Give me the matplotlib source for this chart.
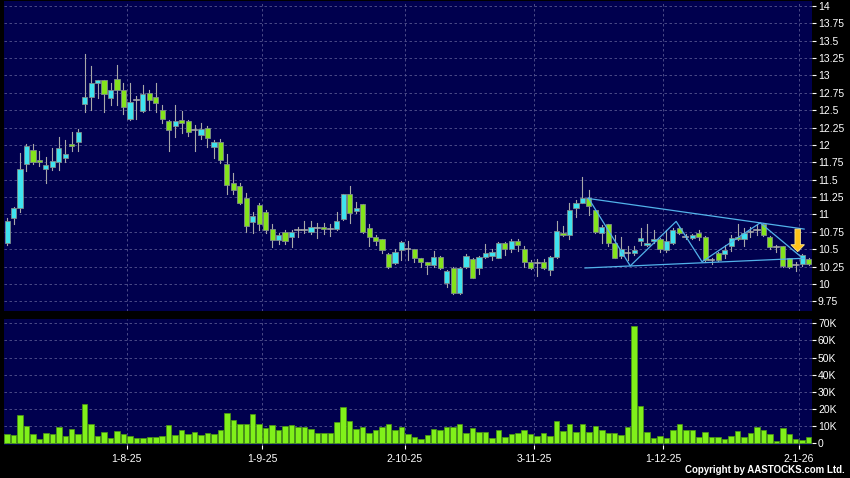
import matplotlib
matplotlib.use("Agg")
import matplotlib.pyplot as plt
from matplotlib.patches import Rectangle, Polygon
import numpy as np

plt.rcParams['font.family'] = ['Liberation Sans', 'DejaVu Sans']

# ---------------- data ----------------
opens = [10.59, 10.95, 11.09, 11.72, 11.93, 11.78, 11.66, 11.68, 11.75, 11.81,
         12.01, 12.05, 12.59, 12.69, 12.89, 12.93, 12.67, 12.95, 12.79, 12.37,
         12.65, 12.49, 12.75, 12.69, 12.51, 12.35, 12.28, 12.36, 12.34, 12.22,
         12.15, 12.25, 11.97, 12.04, 11.73, 11.46, 11.41, 11.24, 10.89, 11.13,
         11.04, 10.79, 10.63, 10.75, 10.68, 10.77, 10.77, 10.75, 10.80, 10.82,
         10.79, 10.79, 10.93, 11.30, 11.05, 11.15, 10.80, 10.68, 10.64, 10.43,
         10.30, 10.49, 10.50, 10.50, 10.37, 10.31, 10.27, 10.39, 10.02, 10.23,
         9.87, 10.24, 10.36, 10.23, 10.39, 10.40, 10.38, 10.59, 10.50, 10.62,
         10.51, 10.32, 10.30, 10.31, 10.20, 10.39, 10.73, 10.71, 11.10, 11.17,
         11.23, 11.06, 10.73, 10.86, 10.59, 10.40, 10.45, 10.44, 10.62, 10.56,
         10.62, 10.64, 10.49, 10.59, 10.80, 10.67, 10.66, 10.74, 10.68, 10.35,
         10.44, 10.43, 10.54, 10.68, 10.64, 10.75, 10.78, 10.86, 10.68, 10.53,
         10.55, 10.37, 10.27, 10.29, 10.36]
closes = [10.90, 11.09, 11.66, 11.98, 11.76, 11.76, 11.71, 11.77, 11.95, 11.87,
          11.99, 12.18, 12.69, 12.89, 12.94, 12.73, 12.79, 12.79, 12.54, 12.62,
          12.65, 12.74, 12.65, 12.61, 12.38, 12.22, 12.35, 12.31, 12.19, 12.22,
          12.23, 12.10, 12.04, 11.78, 11.42, 11.35, 11.16, 10.83, 10.98, 10.86,
          10.78, 10.63, 10.70, 10.62, 10.75, 10.77, 10.77, 10.82, 10.80, 10.79,
          10.79, 10.90, 11.29, 11.02, 11.10, 10.75, 10.68, 10.62, 10.49, 10.25,
          10.46, 10.60, 10.50, 10.37, 10.31, 10.27, 10.39, 10.23, 10.19, 9.87,
          10.23, 10.40, 10.08, 10.39, 10.44, 10.46, 10.59, 10.50, 10.62, 10.56,
          10.32, 10.23, 10.30, 10.23, 10.39, 10.76, 10.71, 11.06, 11.17, 11.23,
          11.12, 10.75, 10.82, 10.59, 10.38, 10.50, 10.45, 10.49, 10.66, 10.59,
          10.64, 10.50, 10.62, 10.78, 10.73, 10.67, 10.70, 10.67, 10.35, 10.35,
          10.35, 10.49, 10.66, 10.64, 10.73, 10.75, 10.78, 10.70, 10.53, 10.53,
          10.26, 10.24, 10.27, 10.42, 10.29]
highs = [10.95, 11.11, 11.88, 12.02, 12.01, 11.91, 11.83, 11.96, 12.11, 12.07,
         12.18, 12.23, 13.31, 13.14, 12.94, 12.94, 12.89, 13.15, 12.89, 12.89,
         12.70, 12.86, 12.79, 12.89, 12.58, 12.36, 12.58, 12.49, 12.36, 12.29,
         12.32, 12.27, 12.07, 12.08, 11.87, 11.60, 11.45, 11.31, 11.04, 11.16,
         11.06, 10.86, 10.74, 10.77, 10.78, 10.82, 10.90, 10.90, 10.88, 10.88,
         10.87, 11.04, 11.30, 11.41, 11.18, 11.15, 10.87, 10.70, 10.64, 10.44,
         10.50, 10.62, 10.62, 10.50, 10.38, 10.32, 10.47, 10.40, 10.20, 10.24,
         10.24, 10.43, 10.37, 10.40, 10.57, 10.51, 10.60, 10.61, 10.64, 10.64,
         10.54, 10.34, 10.36, 10.36, 10.40, 10.90, 10.83, 11.16, 11.21, 11.54,
         11.35, 11.06, 10.85, 10.87, 10.70, 10.67, 10.54, 10.54, 10.80, 10.87,
         10.77, 10.66, 10.78, 10.80, 10.82, 10.72, 10.72, 10.78, 10.69, 10.38,
         10.46, 10.56, 10.70, 10.87, 10.80, 10.82, 10.85, 10.88, 10.69, 10.56,
         10.55, 10.38, 10.31, 10.43, 10.38]
lows = [10.56, 10.86, 11.04, 11.62, 11.73, 11.70, 11.46, 11.64, 11.64, 11.76,
        11.91, 11.91, 12.48, 12.50, 12.67, 12.48, 12.58, 12.58, 12.45, 12.36,
        12.37, 12.48, 12.50, 12.48, 12.31, 11.92, 12.12, 12.17, 12.13, 11.92,
        12.08, 11.97, 11.81, 11.74, 11.29, 11.30, 11.15, 10.75, 10.73, 10.78,
        10.74, 10.53, 10.58, 10.58, 10.53, 10.67, 10.73, 10.72, 10.66, 10.72,
        10.69, 10.78, 10.92, 10.88, 11.02, 10.73, 10.55, 10.56, 10.44, 10.23,
        10.29, 10.35, 10.35, 10.32, 10.25, 10.14, 10.25, 10.21, 9.95, 9.86,
        9.86, 10.23, 10.08, 10.14, 10.37, 10.35, 10.37, 10.42, 10.46, 10.48,
        10.25, 10.22, 10.12, 10.22, 10.13, 10.38, 10.69, 10.64, 10.97, 11.16,
        10.99, 10.73, 10.59, 10.55, 10.37, 10.37, 10.35, 10.42, 10.56, 10.54,
        10.59, 10.46, 10.46, 10.57, 10.72, 10.65, 10.65, 10.63, 10.32, 10.29,
        10.33, 10.38, 10.48, 10.63, 10.55, 10.67, 10.71, 10.69, 10.50, 10.46,
        10.25, 10.23, 10.19, 10.26, 10.28]
volumes_k = [5.4, 4.9, 16.5, 10.3, 5.3, 2.5, 6.0, 5.4, 9.3, 4.3,
             8.4, 5.4, 22.8, 11.3, 4.3, 6.6, 2.9, 7.0, 5.3, 4.5,
             2.9, 2.9, 3.9, 3.9, 4.5, 10.7, 4.9, 8.0, 5.4, 6.6,
             5.1, 6.0, 5.3, 8.0, 17.7, 13.6, 11.5, 11.1, 16.9, 11.3,
             8.9, 10.7, 7.6, 10.3, 10.5, 9.7, 9.5, 8.2, 6.2, 6.0,
             6.0, 12.6, 21.4, 13.0, 8.4, 9.3, 5.8, 7.8, 9.7, 11.5,
             7.6, 9.5, 5.3, 3.5, 2.7, 4.9, 8.4, 8.0, 9.7, 9.3,
             11.5, 6.0, 8.8, 6.6, 6.6, 2.9, 7.6, 3.9, 5.4, 6.2,
             7.6, 5.3, 4.3, 5.8, 4.5, 13.0, 7.4, 11.1, 6.8, 11.5,
             6.8, 10.1, 8.0, 6.2, 6.2, 5.1, 9.3, 68.5, 22.0, 6.6,
             3.1, 4.1, 3.1, 7.8, 11.3, 7.8, 7.8, 3.9, 6.8, 3.9,
             3.7, 2.3, 4.1, 7.2, 3.9, 6.2, 9.5, 8.0, 5.4, 1.4,
             8.8, 5.3, 2.3, 1.9, 3.9]

date_labels = ["1-8-25", "1-9-25", "2-10-25", "3-11-25", "1-12-25", "2-1-26"]
date_positions = [18.5, 39.5, 61.5, 81.5, 101.5, 122.5]

price_ticks = [9.75, 10, 10.25, 10.5, 10.75, 11, 11.25, 11.5, 11.75,
               12, 12.25, 12.5, 12.75, 13, 13.25, 13.5, 13.75, 14]
vol_ticks_k = [0, 10, 20, 30, 40, 50, 60, 70]

# triangle pattern annotation (bar index, price)
upper_line = [(89.9, 11.23), (123.3, 10.79)]
lower_line = [(89.4, 10.23), (123.3, 10.37)]
zigzag = [(89.9, 11.24), (96.4, 10.26), (103.5, 10.90), (107.5, 10.32),
          (116.5, 10.88), (122.7, 10.40)]
arrow_x = 122.3
arrow_top, arrow_bottom = 10.79, 10.465

# ---------------- style ----------------
BG = '#00004e'
GRID = '#55558f'
UP = '#3fe3ef'
DOWN = '#84e31c'
WICK = '#a8a8a8'
VOL = '#80f01a'
VOL_EDGE = '#4c9a10'
TXT = 'white'

fig = plt.figure(figsize=(8.5, 4.78), dpi=100, facecolor='black')
W, H = 850, 478
left = 4 / W
width = 807.7 / W
ax = fig.add_axes([left, 1 - 311 / H, width, 310 / H], facecolor=BG)
axv = fig.add_axes([left, 1 - 444.5 / H, width, 125.5 / H], facecolor=BG)

n = len(opens)
xs = np.arange(n)
bw = 0.8

for i in range(n):
    o, c, h, l = opens[i], closes[i], highs[i], lows[i]
    ax.plot([i, i], [l, h], color=WICK, lw=0.8, zorder=3)
    if abs(c - o) < 1e-9:
        ax.plot([i - bw / 2, i + bw / 2], [o, o], color=WICK, lw=1.2, zorder=4)
    else:
        col = UP if c > o else DOWN
        ax.add_patch(Rectangle((i - bw / 2, min(o, c)), bw, abs(c - o),
                               facecolor=col, edgecolor='#7f8c8c', lw=0.6, zorder=4))

# trend lines
for seg in (upper_line, lower_line, zigzag):
    sx, sy = zip(*seg)
    ax.plot(sx, sy, color='#52b2ea', lw=0.9, zorder=5)

# arrow
sw, hw = 0.42, 1.05
head_base = arrow_bottom + 0.1
poly = Polygon([(arrow_x - sw, arrow_top), (arrow_x + sw, arrow_top),
                (arrow_x + sw, head_base), (arrow_x + hw, head_base),
                (arrow_x, arrow_bottom), (arrow_x - hw, head_base),
                (arrow_x - sw, head_base)], closed=True,
               facecolor='#ffc21a', edgecolor='#ffe88a', lw=0.6, zorder=6)
ax.add_patch(poly)

ax.set_xlim(-0.48, 124.47)
ax.set_ylim(9.611, 14.072)
ax.set_yticks(price_ticks)
ax.set_yticklabels(["%g" % t for t in price_ticks])
ax.set_xticks(date_positions)
ax.set_xticklabels([])

# volume
axv.bar(xs, [v * 1000 for v in volumes_k], width=0.85, color=VOL,
        edgecolor=VOL_EDGE, lw=0.5, zorder=3)
axv.set_xlim(-0.48, 124.47)
axv.set_ylim(-700, 72500)
axv.set_yticks([v * 1000 for v in vol_ticks_k])
axv.set_yticklabels(["0" if v == 0 else "%dK" % v for v in vol_ticks_k])
axv.set_xticks(date_positions)
axv.set_xticklabels(date_labels)

for a in (ax, axv):
    for s in a.spines.values():
        s.set_visible(False)
    a.grid(True, color=GRID, ls=(0, (3, 3)), lw=0.6, zorder=0)
    a.set_axisbelow(True)
    a.tick_params(axis='y', left=False, labelleft=False, right=True, labelright=True,
                  colors=TXT, length=3, width=0.8, pad=1.5, labelsize=7.5)
    a.tick_params(axis='x', colors=TXT, length=3, width=0.8, pad=4, labelsize=7.5)
ax.tick_params(axis='x', length=0)

fig.text(845 / W, 1 - 470 / H, "Copyright by AASTOCKS.com Ltd.", color=TXT,
         fontsize=7, ha='right', va='center', fontweight='bold')

fig.savefig("out.png", dpi=100, facecolor='black')
